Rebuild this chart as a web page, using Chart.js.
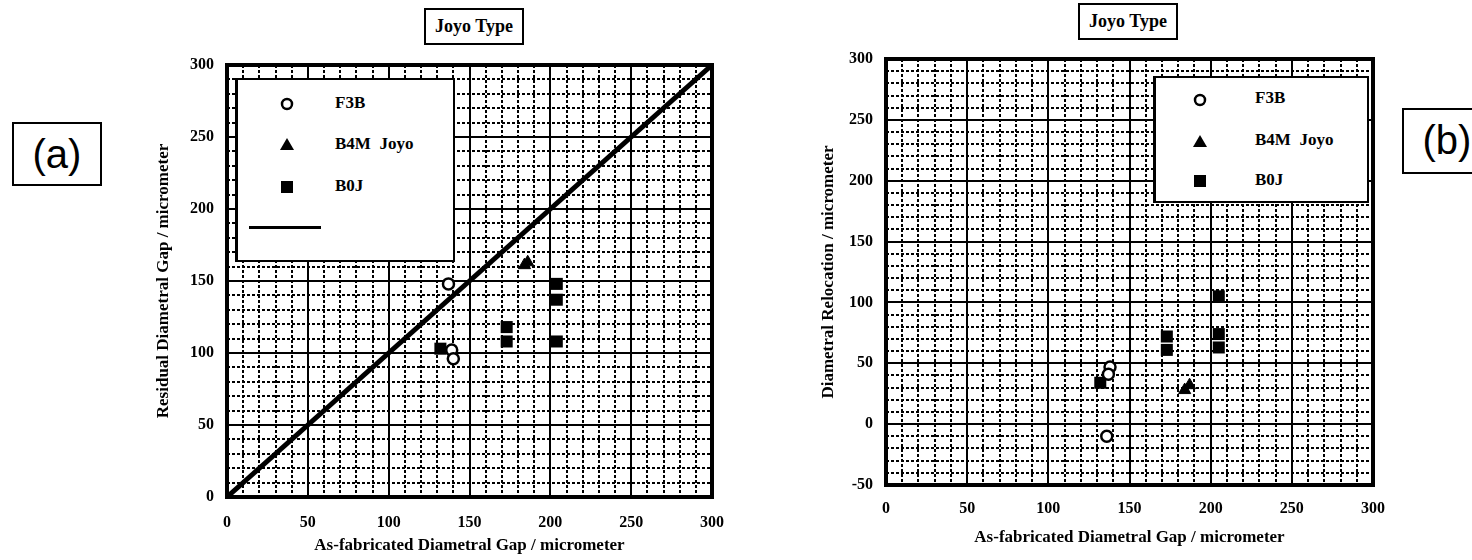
<!DOCTYPE html>
<html>
<head>
<meta charset="utf-8">
<script src="https://cdn.jsdelivr.net/npm/chart.js@4.4.1/dist/chart.umd.min.js"></script>
<style>
  body { margin: 0; width: 1472px; height: 560px; background: #fff; position: relative; overflow: hidden; }
  .wrap { position: absolute; top: 0; height: 560px; }
  .box { position: absolute; border: 2px solid #000; background: #fff; box-sizing: border-box; }
  .ttl { font: bold 18px 'Liberation Serif', serif; text-align: center; line-height: 32px; }
  .tag { font: 40px 'Liberation Sans', Arial, sans-serif; text-align: center; line-height: 60px; }
  .leg { font: bold 17px 'Liberation Serif', serif; border-width: 2px 2px 2px 3px; }
  .leg .row { position: absolute; white-space: nowrap; }
  .leg svg { position: absolute; }
</style>
</head>
<body>

<div class="wrap" style="left:0;width:740px"><canvas id="chartA"></canvas></div>
<div class="wrap" style="left:740px;width:732px"><canvas id="chartB"></canvas></div>

<div class="box ttl" style="left:424px;top:8px;width:100px;height:37px">Joyo Type</div>
<div class="box ttl" style="left:1078px;top:3px;width:100px;height:37px">Joyo Type</div>

<div class="box tag" style="left:12px;top:122px;width:90px;height:64px">(a)</div>
<div class="box tag" style="left:1402px;top:108px;width:90px;height:66px">(b)</div>

<!-- legend (a) -->
<div class="box leg" style="left:235px;top:78px;width:220px;height:184px">
  <svg style="left:42px;top:17px" width="14" height="14"><circle cx="7" cy="7" r="5" fill="#fff" stroke="#000" stroke-width="2.5"/></svg>
  <div class="row" style="left:97px;top:13px">F3B</div>
  <svg style="left:41px;top:57px" width="16" height="14"><polygon points="8,1 15,13 1,13" fill="#000"/></svg>
  <div class="row" style="left:97px;top:54px">B4M&nbsp; Joyo</div>
  <svg style="left:43px;top:101px" width="12" height="12"><rect width="12" height="12" fill="#000"/></svg>
  <div class="row" style="left:97px;top:96px">B0J</div>
  <svg style="left:11px;top:146px" width="72" height="4"><rect width="72" height="3" fill="#000"/></svg>
</div>

<!-- legend (b) -->
<div class="box leg" style="left:1153px;top:76px;width:216px;height:127px">
  <svg style="left:37px;top:15px" width="14" height="14"><circle cx="7" cy="7" r="5" fill="#fff" stroke="#000" stroke-width="2.5"/></svg>
  <div class="row" style="left:99px;top:10px">F3B</div>
  <svg style="left:36px;top:56px" width="16" height="14"><polygon points="8,1 15,13 1,13" fill="#000"/></svg>
  <div class="row" style="left:99px;top:52px">B4M&nbsp; Joyo</div>
  <svg style="left:38px;top:97px" width="12" height="12"><rect width="12" height="12" fill="#000"/></svg>
  <div class="row" style="left:99px;top:92px">B0J</div>
</div>

<script>
// axis ranges / ticks
const xMin = 0, xMax = 300
const yMinA = 0, yMaxA = 300
const yMinB = -50, yMaxB = 300
const majorStep = 50
const minorStep = 10

// (a) residual diametral gap
const f3bAx = [137, 139, 140]
const f3bAy = [148, 102, 96]
const b4mAx = [184, 186]
const b4mAy = [161, 163]
const b0jAx = [132, 173, 173, 204, 204, 204]
const b0jAy = [103, 118, 108, 148, 137, 108]
const lineX = [0, 300]
const lineY = [0, 300]

// (b) diametral relocation
const f3bBx = [138, 137, 136]
const f3bBy = [47, 41, -10]
const b4mBx = [184, 187]
const b4mBy = [28, 32]
const b0jBx = [132, 173, 173, 205, 205, 205]
const b0jBy = [34, 72, 61, 105, 74, 63]

const pts = (xs, ys) => xs.map((x, i) => ({ x: x, y: ys[i] }))

const tickFont = { family: "'Liberation Serif', serif", size: 16, weight: 'bold' }
const titleFont = { family: "'Liberation Serif', serif", size: 17, weight: 'bold' }

// thick frame round the plot area
const framePlugin = {
  id: 'frame',
  afterDatasetsDraw(chart) {
    const a = chart.chartArea
    const ctx = chart.ctx
    ctx.save()
    ctx.strokeStyle = '#000'
    ctx.lineWidth = 4
    ctx.strokeRect(a.left, a.top, a.right - a.left, a.bottom - a.top)
    ctx.restore()
  }
}

function pointSets(f3b, b4m, b0j) {
  return [
    { type: 'scatter', label: 'F3B', data: f3b, pointStyle: 'circle', pointRadius: 5.5,
      backgroundColor: '#fff', borderColor: '#000', borderWidth: 2.5 },
    { type: 'scatter', label: 'B4M Joyo', data: b4m, pointStyle: 'triangle', pointRadius: 7,
      backgroundColor: '#000', borderColor: '#000', borderWidth: 1 },
    { type: 'scatter', label: 'B0J', data: b0j, pointStyle: 'rect', pointRadius: 8.5,
      backgroundColor: '#000', borderColor: '#000', borderWidth: 0 }
  ]
}

function makeScales(yMin, yMax, yTitle, yWidth, xHeight, xPad, xTitlePad) {
  return {
    x: {
      type: 'linear', position: 'bottom', min: xMin, max: xMax, weight: 1,
      ticks: { stepSize: majorStep, color: '#000', font: tickFont, padding: xPad, maxRotation: 0 },
      grid: { color: '#000', lineWidth: 2, drawTicks: false },
      border: { display: false },
      title: { display: true, text: 'As-fabricated Diametral Gap / micrometer', color: '#000', font: titleFont,
               padding: { top: 0, bottom: xTitlePad } },
      afterFit: s => { s.height = xHeight }
    },
    xMinor: {
      type: 'linear', position: 'bottom', min: xMin, max: xMax, weight: 0,
      ticks: { stepSize: minorStep, display: false },
      grid: { color: '#000', lineWidth: 2, drawTicks: false },
      border: { display: false, dash: [3, 2] },
      afterFit: s => { s.height = 0 }
    },
    y: {
      type: 'linear', position: 'left', min: yMin, max: yMax, weight: 1,
      ticks: { stepSize: majorStep, color: '#000', font: tickFont, padding: 13 },
      grid: { color: '#000', lineWidth: 2, drawTicks: false },
      border: { display: false },
      title: { display: true, text: yTitle, color: '#000', font: titleFont, padding: 0 },
      afterFit: s => { s.width = yWidth }
    },
    yMinor: {
      type: 'linear', position: 'left', min: yMin, max: yMax, weight: 0,
      ticks: { stepSize: minorStep, display: false },
      grid: { color: '#000', lineWidth: 2, drawTicks: false },
      border: { display: false, dash: [3, 2] },
      afterFit: s => { s.width = 0 }
    }
  }
}

const common = {
  responsive: false,
  animation: false,
  plugins: { legend: { display: false }, tooltip: { enabled: false } }
}

function sizeCanvas(id, w, h) {
  const c = document.getElementById(id)
  c.width = w
  c.height = h
  c.style.width = w + 'px'
  c.style.height = h + 'px'
  return c
}

// panel (a): plot area x 227..722, y 65..497
new Chart(sizeCanvas('chartA', 740, 560), {
  type: 'scatter',
  data: {
    datasets: [
      ...pointSets(pts(f3bAx, f3bAy), pts(b4mAx, b4mAy), pts(b0jAx, b0jAy)),
      { type: 'line', label: 'line', data: pts(lineX, lineY), borderColor: '#000', borderWidth: 5,
        pointRadius: 0, fill: false, tension: 0 }
    ]
  },
  options: {
    ...common,
    layout: { padding: { left: 153, right: 18, top: 65, bottom: 2 } },
    scales: makeScales(yMinA, yMaxA, 'Residual Diametral Gap / micrometer', 74, 61, 16, 2)
  },
  plugins: [framePlugin]
})

// panel (b): plot area x 886..1373, y 59..485
new Chart(sizeCanvas('chartB', 732, 560), {
  type: 'scatter',
  data: {
    datasets: pointSets(pts(f3bBx, f3bBy), pts(b4mBx, b4mBy), pts(b0jBx, b0jBy))
  },
  options: {
    ...common,
    layout: { padding: { left: 78, right: 99, top: 59, bottom: 10 } },
    scales: makeScales(yMinB, yMaxB, 'Diametral Relocation / micrometer', 68, 65, 14, 2)
  },
  plugins: [framePlugin]
})
</script>
</body>
</html>
